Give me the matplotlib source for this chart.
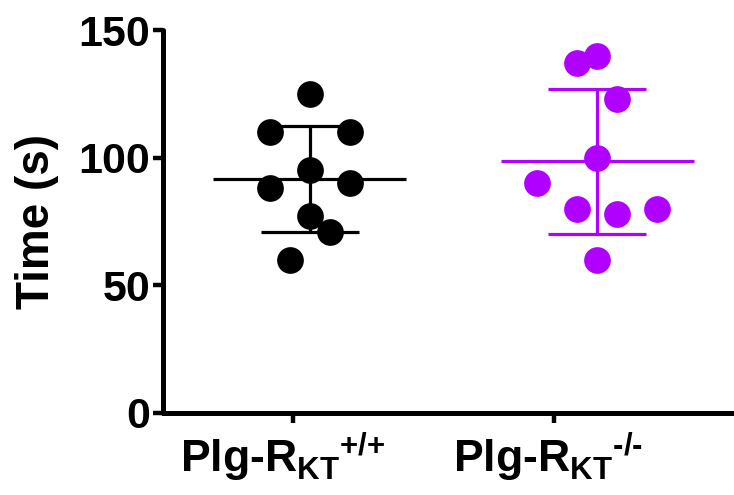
import numpy as np
import matplotlib
matplotlib.use("Agg")
from matplotlib import pyplot as plt
from matplotlib.transforms import ScaledTranslation

plt.rcParams['font.family'] = 'Liberation Sans'
plt.rcParams['font.weight'] = 'bold'
plt.rcParams['mathtext.fontset'] = 'custom'
plt.rcParams['mathtext.rm'] = 'Liberation Sans:bold'
plt.rcParams['mathtext.bf'] = 'Liberation Sans:bold'

# data
groups = [r'Plg-R$_\mathbf{KT}$$^\text{+/+}$', r'Plg-R$_\mathbf{KT}$$^\text{-/-}$']
wt_time = [125, 110, 110, 95, 88, 90, 77, 71, 60]
ko_time = [137, 140, 123, 100, 90, 80, 78, 80, 60]
colors = ['black', '#B000FF']

# horizontal scatter offsets of the dots (layout only)
wt_dx = [0, -0.14, 0.14, 0, -0.14, 0.14, 0, 0.07, -0.07]
ko_dx = [-0.07, 0, 0.07, 0, -0.21, -0.07, 0.07, 0.21, 0]

centers = [1, 2]
tick_pos = [0.94, 1.85]

fig = plt.figure(figsize=(7.34, 4.95), dpi=100)
ax = fig.add_axes([0.222, 0.166, 0.778, 0.773])

for c, vals, dx, col in zip(centers, [wt_time, ko_time], [wt_dx, ko_dx], colors):
    vals = np.array(vals, dtype=float)
    m = vals.mean()
    sd = vals.std(ddof=1)
    ax.scatter(c + np.array(dx), vals, s=370, color=col, zorder=3, linewidths=0)
    ax.hlines(m, c - 0.336, c + 0.336, color=col, lw=2.3, zorder=2)
    ax.hlines([m - sd, m + sd], c - 0.171, c + 0.171, color=col, lw=2.3, zorder=2)
    ax.vlines(c, m - sd, m + sd, color=col, lw=2.3, zorder=2)

ax.set_xlim(0.488, 2.477)
ax.set_ylim(0, 150)
ax.set_yticks([0, 50, 100, 150])
ax.set_xticks(tick_pos)
ax.set_xticklabels(groups, fontsize=32, fontweight='bold')
ax.tick_params(axis='y', labelsize=31, width=3.2, length=7, pad=2)
ax.tick_params(axis='x', width=3.2, length=7, pad=6)
for t in ax.get_yticklabels():
    t.set_fontweight('bold')
# labels sit a little left of their ticks in the original
for t, off in zip(ax.get_xticklabels(), [-0.10, -0.06]):
    t.set_transform(t.get_transform() + ScaledTranslation(off, 0, fig.dpi_scale_trans))
ax.set_ylabel('Time (s)', fontsize=33, fontweight='bold', labelpad=14)

for s in ['top', 'right']:
    ax.spines[s].set_visible(False)
for s in ['left', 'bottom']:
    ax.spines[s].set_linewidth(3.6)
    ax.spines[s].set_capstyle('round')

fig.savefig('out.png', dpi=100)
